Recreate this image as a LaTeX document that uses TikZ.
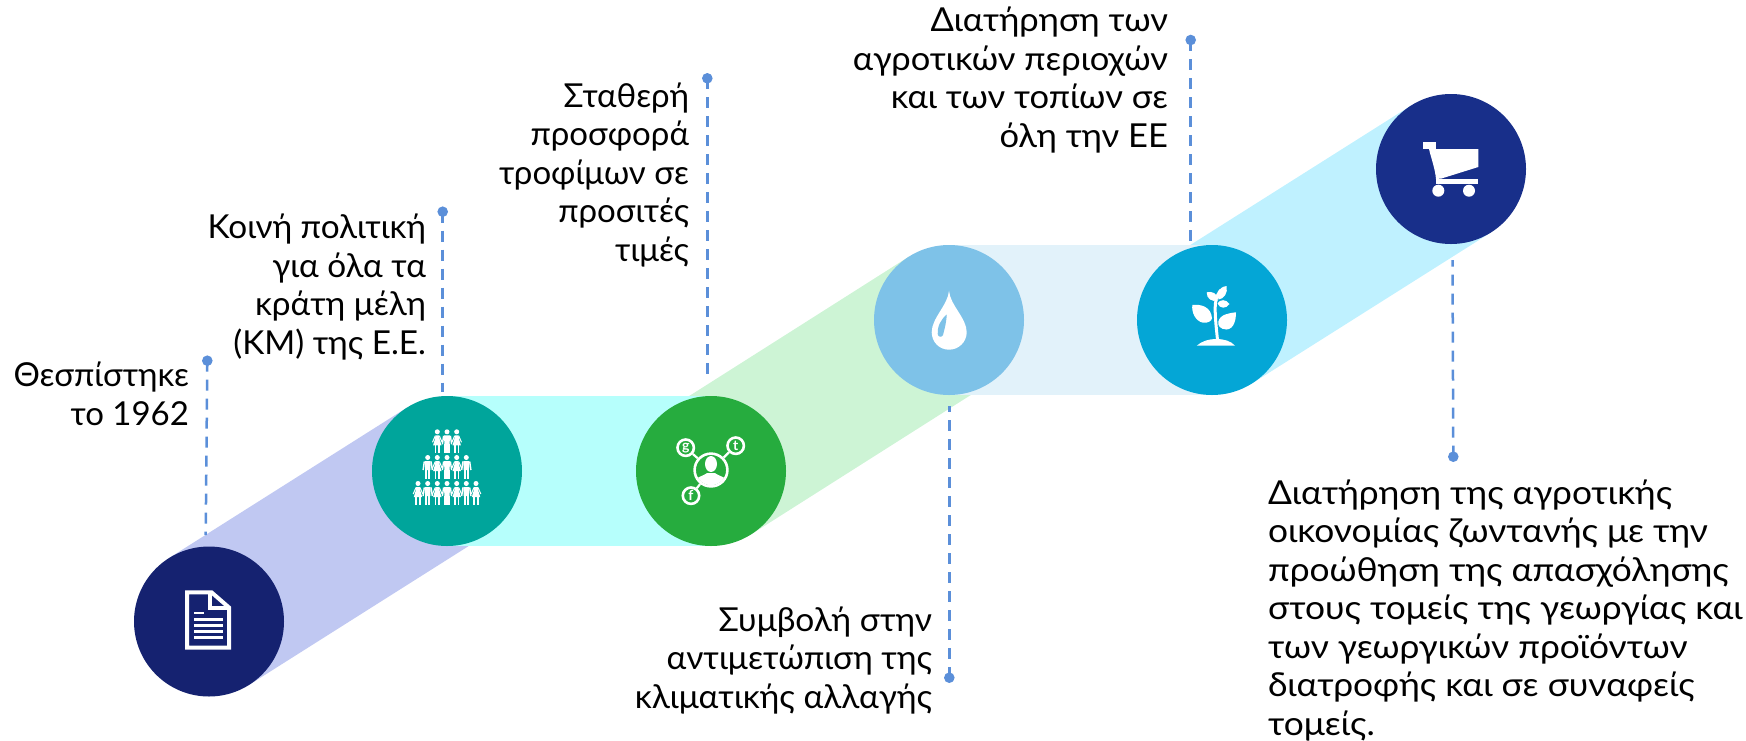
\documentclass[tikz,border=0pt]{standalone}
\usepackage{fontspec}
\setmainfont{Lato}
\usetikzlibrary{calc}
\definecolor{navyA}{HTML}{152270}
\definecolor{tealA}{HTML}{00A59B}
\definecolor{greenA}{HTML}{26AC3E}
\definecolor{skyA}{HTML}{7EC2E8}
\definecolor{cyanA}{HTML}{04A6D6}
\definecolor{navyB}{HTML}{182F8A}
\definecolor{bandA}{HTML}{C0C8F2}
\definecolor{bandB}{HTML}{B6FFFC}
\definecolor{bandC}{HTML}{CDF4D5}
\definecolor{bandD}{HTML}{E2F2FA}
\definecolor{bandE}{HTML}{BFF1FF}
\definecolor{dashc}{HTML}{5B8FD9}
\tikzset{
  x=0.5pt,y=-0.5pt,
  disc/.style={circle,minimum size=75pt,inner sep=0pt,outer sep=0pt,draw=none},
  lab/.style={font=\fontsize{16.5}{19.25}\selectfont\addfontfeature{FakeStretch=#1},inner sep=0pt,outer sep=0pt,text=black},
  dotnode/.style={circle,fill=dashc,minimum size=5.3pt,inner sep=0pt,outer sep=0pt},
  leader/.style={draw=dashc,line width=1.25pt,dash pattern=on 5.5pt off 4pt},
  ring/.style={draw=white,line width=1.3pt,fill=none},
  mini/.style={font=\fontsize{7}{7}\selectfont\bfseries,text=white,inner sep=0pt},
  woman/.pic={
    \fill[white] (0,2.5) circle (1.25pt);
    \fill[white] (-1.8,6) -- (1.8,6) -- (2.4,10) -- (4.2,16) -- (-4.2,16) -- (-2.4,10) -- cycle;
    \fill[white] (-2.6,16) rectangle (-0.9,24);
    \fill[white] (0.9,16) rectangle (2.6,24);
    \draw[white,line width=.5pt] (-2,6.5) -- (-4.8,13);
    \draw[white,line width=.5pt] (2,6.5) -- (4.8,13);
  },
  man/.pic={
    \fill[white] (0,2.5) circle (1.25pt);
    \fill[white] (-3,6) -- (3,6) -- (2.6,15) -- (-2.6,15) -- cycle;
    \fill[white] (-2.6,15) rectangle (-0.4,24);
    \fill[white] (0.4,15) rectangle (2.6,24);
    \draw[white,line width=.7pt] (-3.4,6.5) -- (-4.6,15);
    \draw[white,line width=.7pt] (3.4,6.5) -- (4.6,15);
  }
}
\begin{document}
\begin{tikzpicture}
\useasboundingbox (0,0) rectangle (1746,740);
\coordinate (c1) at (209,621.5);
\coordinate (c2) at (447,471);
\coordinate (c3) at (711,471);
\coordinate (c4) at (949,320);
\coordinate (c5) at (1212,320);
\coordinate (c6) at (1451,169);
% bands
\fill[bandA] ($(c1)!37.5pt!90:(c2)$) -- ($(c2)!37.5pt!-90:(c1)$) -- ($(c2)!37.5pt!90:(c1)$) -- ($(c1)!37.5pt!-90:(c2)$) -- cycle;
\fill[bandE] ($(c5)!37.5pt!90:(c6)$) -- ($(c6)!37.5pt!-90:(c5)$) -- ($(c6)!37.5pt!90:(c5)$) -- ($(c5)!37.5pt!-90:(c6)$) -- cycle;
\fill[bandC] ($(c3)!37.5pt!90:(c4)$) -- ($(c4)!37.5pt!-90:(c3)$) -- ($(c4)!37.5pt!90:(c3)$) -- ($(c3)!37.5pt!-90:(c4)$) -- cycle;
\fill[bandB] ($(c2)+(0,-75)$) rectangle ($(c3)+(0,75)$);
\fill[bandD] ($(c4)+(0,-75)$) rectangle ($(c5)+(0,75)$);
% discs
\node[disc,fill=navyA] (n1) at (c1) {};
\node[disc,fill=tealA] (n2) at (c2) {};
\node[disc,fill=greenA] (n3) at (c3) {};
\node[disc,fill=skyA] (n4) at (c4) {};
\node[disc,fill=cyanA] (n5) at (c5) {};
\node[disc,fill=navyB] (n6) at (c6) {};
% document icon
\draw[white,line width=2pt,miter limit=10] (187,592.3) -- (211.5,592.3) -- (229,607.5) -- (229,647.7) -- (187,647.7) -- cycle;
\draw[white,line width=2pt] (209.8,592) -- (209.8,607.5) -- (229.5,607.5);
\foreach \yy/\xe in {613/204,619.3/223,625.3/223,631.3/223,637.3/223}
  \draw[white,line width=1.35pt] (194,\yy) -- (\xe,\yy);
% people icon
\foreach \xx/\kind in {437.3/woman,447/man,456.7/woman}
  \pic at (\xx,429.3) {\kind};
\foreach \xx/\kind in {427.7/man,437.3/woman,447/man,456.7/woman,466.3/man}
  \pic at (\xx,455) {\kind};
\foreach \xx/\kind in {418/woman,427.7/man,437.3/woman,447/man,456.7/woman,466.3/man,476/woman}
  \pic at (\xx,481) {\kind};
% network icon
\node[circle,ring,minimum size=16.4pt,inner sep=0pt] (hub) at (711,470) {};
\node[circle,ring,minimum size=8.2pt,inner sep=0pt,mini] (mg) at (685.7,447.7) {g};
\node[circle,ring,minimum size=8.2pt,inner sep=0pt,mini] (mt) at (735.7,445.7) {t};
\node[circle,ring,minimum size=8.2pt,inner sep=0pt,mini] (mf) at (691,495.7) {f};
\draw[white,line width=1.1pt] (hub) -- (mg);
\draw[white,line width=1.1pt] (hub) -- (mt);
\draw[white,line width=1.1pt] (hub) -- (mf);
\fill[white] (711,464) ellipse [x radius=3pt,y radius=4pt];
\begin{scope}
  \clip (711,470) circle (7.6pt);
  \fill[white] (694,490) -- (694,480) .. controls (700,476) and (705,475) .. (707,473) -- (715,473) .. controls (717,475) and (722,476) .. (728,480) -- (728,490) -- cycle;
\end{scope}
% drop icon
\fill[white] (949,290.7) .. controls (950,305) and (966.7,318) .. (966.7,332.2) .. controls (966.7,342) and (958.7,349.7) .. (949,349.7) .. controls (939.3,349.7) and (931.7,342) .. (931.7,332.2) .. controls (931.7,318) and (948,305) .. (949,290.7) -- cycle;
\fill[skyA] (946.8,314.5) .. controls (946,325) and (944,331) .. (943,335) .. controls (942,337.5) and (938,337.5) .. (937.7,334) .. controls (937,327) and (941,319) .. (946.8,314.5) -- cycle;
% plant icon
\fill[white] (1196.7,345.7) .. controls (1202,341) and (1209,339) .. (1216,339) .. controls (1224,339) and (1231,341) .. (1235,345.7) -- cycle;
\draw[white,line width=1.5pt] (1217.5,340) .. controls (1216,325) and (1214.5,312) .. (1215.5,303) .. controls (1216,297) and (1219,292) .. (1221,290);
\fill[white] (1192.3,305) .. controls (1200,304) and (1211,306) .. (1212,318.3) .. controls (1212,321) and (1207,323.5) .. (1203,322.7) .. controls (1195,321) and (1191.5,312) .. (1192.3,305) -- cycle;
\fill[white] (1236,312.3) .. controls (1236,320) and (1234,329) .. (1226.5,329.5) .. controls (1220,329.5) and (1217.5,325) .. (1218.3,321.7) .. controls (1220,314) and (1230,313) .. (1236,312.3) -- cycle;
\fill[white] (1206.7,292.3) .. controls (1212,291) and (1218,293) .. (1217.5,300.5) .. controls (1212,302) and (1206.5,299) .. (1206.7,292.3) -- cycle;
\fill[white] (1226.7,286) .. controls (1228,293) and (1224,299) .. (1218.5,299.5) .. controls (1216,293) and (1219,287) .. (1226.7,286) -- cycle;
\fill[white] (1229.5,304) .. controls (1226,299) and (1220,299) .. (1217.5,303.5) .. controls (1220,309) and (1226,309) .. (1229.5,304) -- cycle;
% cart icon
\fill[white] (1423.3,142.3) rectangle (1435.7,149);
\fill[white] (1429,149) -- (1478.3,149) -- (1478.3,167) -- (1441.5,178.5) -- (1436,179) .. controls (1435,168) and (1431,158) .. (1429,149) -- cycle;
\fill[white] (1436,179.3) rectangle (1478.3,184.3);
\fill[white] (1438.3,190.7) circle (3pt);
\fill[white] (1469,190.7) circle (3pt);
% labels
\node[lab=1.0,anchor=base east,align=right] (t1) at (189,425) {Θεσπίστηκε\\το 1962};
\node[lab=1.01,anchor=base east,align=right] (t2) at (426,354) {Κοινή πολιτική\\για όλα τα\\κράτη μέλη\\(ΚΜ) της Ε.Ε.};
\node[lab=1.0,anchor=base east,align=right] (t3) at (689,261) {Σταθερή\\προσφορά\\τροφίμων σε\\προσιτές\\τιμές};
\node[lab=1.015,anchor=base east,align=right] (t4) at (932,708) {Συμβολή στην\\αντιμετώπιση της\\κλιματικής αλλαγής};
\node[lab=1.045,anchor=base east,align=right] (t5) at (1168,147) {Διατήρηση των\\αγροτικών περιοχών\\και των τοπίων σε\\όλη την ΕΕ};
\node[lab=1.07,anchor=base west,align=left] (t6) at (1268,735) {Διατήρηση της αγροτικής\\οικονομίας ζωντανής με την\\προώθηση της απασχόλησης\\στους τομείς της γεωργίας και\\των γεωργικών προϊόντων\\διατροφής και σε συναφείς\\τομείς.};
% leaders
\node[dotnode] (d1) at (207.3,360.7) {};
\node[dotnode] (d2) at (442.7,211.7) {};
\node[dotnode] (d3) at (707.3,78.3) {};
\node[dotnode] (d4) at (1190.7,40) {};
\node[dotnode] (d5) at (949.3,677.7) {};
\node[dotnode] (d6) at (1453.3,456.7) {};
\coordinate (e1) at (205.7,535);
\coordinate (e2) at (442.7,392);
\coordinate (e3) at (707.3,378);
\coordinate (e4) at (1190.7,248);
\coordinate (e5) at (949.3,406);
\coordinate (e6) at (1452.5,260);
\foreach \i in {1,...,6} \draw[leader] (d\i.center) -- (e\i);
\end{tikzpicture}
\end{document}
